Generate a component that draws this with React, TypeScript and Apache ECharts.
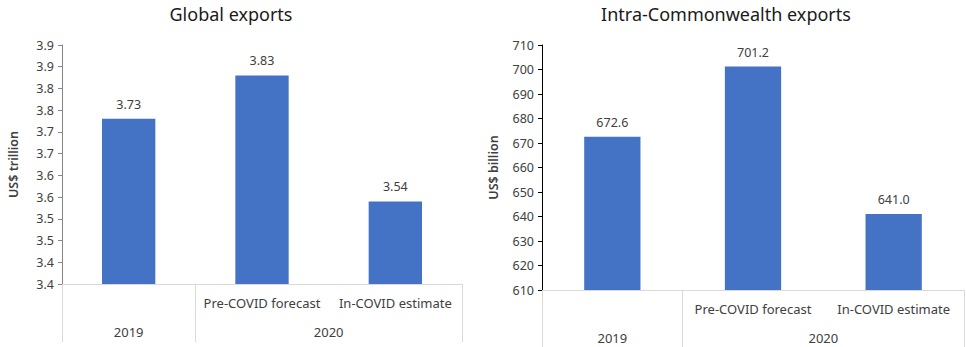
import React, { useEffect, useRef } from "react";
import * as echarts from "echarts";

const categories = ["2019", "Pre-COVID forecast", "In-COVID estimate"];
const subLabels = ["", "Pre-COVID forecast", "In-COVID estimate"];
const groups = [
  { name: "2019", start: 0, end: 1 },
  { name: "2020", start: 1, end: 3 },
];
const globalExports = [3.73, 3.83, 3.54];
const intraExports = [672.6, 701.2, 641.0];

const leftTicks = { min: 3.35, max: 3.9, interval: 0.05 };
const rightTicks = { min: 610, max: 710, interval: 10 };

const FONT = "Noto Sans";
const BAR = "#4472C4";
const TXT = "#404040";
const DIV = "#D9D9D9";

function groupCenters() {
  return groups.map((g) => (g.start + g.end) / 2);
}
function groupEdges() {
  const s = new Set<number>();
  groups.forEach((g) => {
    s.add(g.start);
    s.add(g.end);
  });
  return Array.from(s);
}

export default function App() {
  const ref = useRef<HTMLDivElement>(null);
  useEffect(() => {
    if (!ref.current) return;
    const chart = echarts.init(ref.current, null, { renderer: "svg" });
    const centers = groupCenters();
    const edges = groupEdges();
    const makeX = (gi: number) => [
      {
        type: "category",
        gridIndex: gi,
        data: categories,
        position: "bottom",
        axisLine: { show: true, lineStyle: { color: DIV, width: 1 } },
        axisTick: { show: false },
        axisLabel: {
          interval: 0,
          margin: 12,
          fontFamily: FONT,
          fontSize: 13,
          color: TXT,
          formatter: (_v: string, i: number) => subLabels[i],
        },
      },
      {
        type: "value",
        gridIndex: gi,
        min: 0,
        max: categories.length,
        position: "bottom",
        axisLine: { show: false },
        splitLine: { show: false },
        axisTick: {
          show: true,
          inside: false,
          length: 58,
          customValues: edges,
          lineStyle: { color: DIV, width: 1 },
        },
        axisLabel: {
          show: true,
          margin: 41,
          fontFamily: FONT,
          fontSize: 13,
          color: TXT,
          customValues: centers,
          formatter: (v: number) => {
            const k = centers.findIndex((c) => Math.abs(c - v) < 1e-6);
            return k >= 0 ? groups[k].name : "";
          },
        },
      },
    ];
    const makeY = (gi: number, t: any, name: string, lineColor: string, fmt: (v: number) => string) => ({
      type: "value",
      gridIndex: gi,
      min: t.min,
      max: t.max,
      interval: t.interval,
      name,
      nameLocation: "middle",
      nameRotate: 90,
      nameGap: 42,
      nameTextStyle: { fontFamily: FONT, fontSize: 12.5, fontWeight: 600, color: TXT },
      axisLine: { show: true, lineStyle: { color: lineColor, width: 1 } },
      axisTick: { show: true, inside: false, length: 4, lineStyle: { color: lineColor } },
      splitLine: { show: false },
      axisLabel: { fontFamily: FONT, fontSize: 12.5, color: TXT, margin: 8, formatter: fmt },
    });
    const fmt1 = (v: number) => (Math.round(v * 10 + 1e-6) / 10).toFixed(1);
    const fmt0 = (v: number) => String(Math.round(v));
    chart.setOption({
      animation: false,
      backgroundColor: "#ffffff",
      title: [
        {
          text: "Global exports",
          left: 231,
          top: 5,
          padding: 0,
          textAlign: "center",
          textStyle: { fontFamily: FONT, fontSize: 18, fontWeight: "normal", color: "#1a1a1a" },
        },
        {
          text: "Intra-Commonwealth exports",
          left: 726,
          top: 5,
          padding: 0,
          textAlign: "center",
          textStyle: { fontFamily: FONT, fontSize: 18, fontWeight: "normal", color: "#1a1a1a" },
        },
      ],
      grid: [
        { left: 62, top: 45, width: 400, height: 239, outerBoundsMode: "none", containLabel: false },
        { left: 542, top: 45, width: 422, height: 245, outerBoundsMode: "none", containLabel: false },
      ],
      xAxis: [...makeX(0), ...makeX(1)],
      yAxis: [
        makeY(0, leftTicks, "US$ trillion", "#868686", fmt1),
        makeY(1, rightTicks, "US$ billion", "#000000", fmt0),
      ],
      series: [
        {
          type: "bar",
          xAxisIndex: 0,
          yAxisIndex: 0,
          data: globalExports,
          barWidth: "40%",
          itemStyle: { color: BAR },
          label: {
            show: true,
            position: "top",
            distance: 8,
            fontFamily: FONT,
            fontSize: 12.5,
            color: TXT,
            formatter: (p: any) => Number(p.value).toFixed(2),
          },
        },
        {
          type: "bar",
          xAxisIndex: 2,
          yAxisIndex: 1,
          data: intraExports,
          barWidth: "40%",
          itemStyle: { color: BAR },
          label: {
            show: true,
            position: "top",
            distance: 8,
            fontFamily: FONT,
            fontSize: 12.5,
            color: TXT,
            formatter: (p: any) => Number(p.value).toFixed(1),
          },
        },
      ],
    });
    return () => chart.dispose();
  }, []);
  return (
    <div
      ref={ref}
      style={{ position: "absolute", left: 0, top: 0, width: 966, height: 347 }}
    />
  );
}
